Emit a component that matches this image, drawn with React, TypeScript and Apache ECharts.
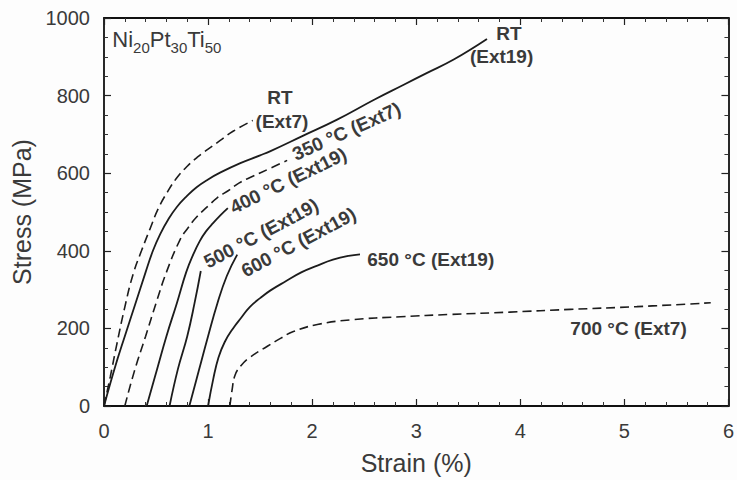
import React, { useEffect, useRef } from "react";
import * as echarts from "echarts";

// Axis ranges / ticks
const strainMin = 0;
const strainMax = 6;
const strainStep = 1;
const stressMin = 0;
const stressMax = 1000;
const stressStep = 200;

// Stress-strain curves: [strain %, stress MPa]
const rtExt7: number[][] = [
  [0, 0], [0.06, 75], [0.12, 155], [0.2, 255], [0.28, 340], [0.36, 400], [0.44, 455],
  [0.52, 508], [0.61, 552], [0.7, 588], [0.8, 618], [0.9, 642], [1.0, 662], [1.12, 685],
  [1.24, 708], [1.43, 736],
];
const rtExt19: number[][] = [
  [0, 0], [0.1, 95], [0.2, 180], [0.3, 262], [0.4, 345], [0.47, 400], [0.54, 443],
  [0.62, 482], [0.7, 513], [0.8, 542], [0.89, 564], [1.0, 584], [1.12, 602], [1.31, 626],
  [1.5, 646], [1.6, 657], [1.9, 695], [2.24, 738], [2.6, 790], [2.88, 828], [3.1, 858],
  [3.36, 893], [3.68, 946],
];
const t350Ext7: number[][] = [
  [0.2, 0], [0.29, 88], [0.4, 180], [0.5, 265], [0.6, 345], [0.73, 428], [0.81, 460],
  [0.89, 487], [1.0, 515], [1.09, 537], [1.2, 556], [1.3, 575], [1.43, 592], [1.6, 613],
  [1.76, 633],
];
const t400Ext19: number[][] = [
  [0.41, 0], [0.51, 95], [0.6, 180], [0.7, 265], [0.79, 345], [0.86, 392], [0.92, 425],
  [0.98, 450], [1.05, 472], [1.12, 492], [1.19, 510],
];
const t500Ext19: number[][] = [
  [0.63, 0], [0.71, 95], [0.8, 180], [0.87, 265], [0.93, 348],
];
const t600Ext19: number[][] = [
  [0.82, 0], [0.91, 90], [1.0, 180], [1.09, 265], [1.18, 335], [1.28, 390],
];
const t650Ext19: number[][] = [
  [1.0, 0], [1.05, 70], [1.1, 125], [1.16, 165], [1.24, 200], [1.32, 228], [1.4, 255],
  [1.5, 278], [1.6, 298], [1.75, 322], [1.9, 345], [2.05, 362], [2.2, 377], [2.35, 387],
  [2.46, 391],
];
const t700Ext7: number[][] = [
  [1.21, 0], [1.23, 40], [1.26, 80], [1.32, 105], [1.4, 125], [1.57, 154], [1.7, 175],
  [1.82, 192], [2.05, 210], [2.37, 222], [2.85, 230], [3.33, 236], [3.9, 242], [4.48, 249],
  [5.12, 256], [5.83, 266],
];

// Curve labels: text, anchor [strain, stress], rotation (deg), alignment
const curveLabels: { text: string; at: number[]; rot: number; align: string }[] = [
  { text: "RT", at: [1.69, 794], rot: 0, align: "center" },
  { text: "(Ext7)", at: [1.71, 733], rot: 0, align: "center" },
  { text: "RT", at: [3.89, 961], rot: 0, align: "center" },
  { text: "(Ext19)", at: [3.82, 900], rot: 0, align: "center" },
  { text: "350 °C (Ext7)", at: [2.33, 708], rot: 24, align: "center" },
  { text: "400 °C (Ext19)", at: [1.77, 581], rot: 26, align: "center" },
  { text: "500 °C (Ext19)", at: [1.51, 445], rot: 28, align: "center" },
  { text: "600 °C (Ext19)", at: [1.87, 422], rot: 28, align: "center" },
  { text: "650 °C (Ext19)", at: [2.53, 378], rot: 0, align: "left" },
  { text: "700 °C (Ext7)", at: [5.04, 200], rot: 0, align: "center" },
];

const FONT = "'Liberation Sans', Arial, Helvetica, sans-serif";
const LINE = "#1c1c1c";
const TEXT = "#3a3a3a";

export default function App() {
  const ref = useRef<HTMLDivElement>(null);
  useEffect(() => {
    const chart = echarts.init(ref.current!, null, { renderer: "svg" });
    const mk = (name: string, data: number[][], dashed: boolean) => ({
      type: "line",
      name,
      data,
      symbol: "none",
      showSymbol: false,
      smooth: 0.45,
      silent: true,
      xAxisIndex: 0,
      yAxisIndex: 0,
      lineStyle: {
        color: LINE,
        width: dashed ? 1.6 : 1.8,
        type: dashed ? [9, 5] : "solid",
      },
    });
    const axisCommon = {
      type: "value",
      splitLine: { show: false },
      axisLine: { show: true, onZero: false, lineStyle: { color: "#111", width: 1.8 } },
      axisTick: { show: true, inside: true, length: 7, lineStyle: { color: "#222", width: 1.2 } },
      minorTick: { show: true, length: 4, lineStyle: { color: "#333", width: 1 } },
      minorSplitLine: { show: false },
    };
    chart.setOption({
      animation: false,
      backgroundColor: "#fdfdfd",
      grid: { left: 104, right: 7, top: 18, bottom: 73, containLabel: false },
      xAxis: [
        {
          ...axisCommon,
          position: "bottom",
          min: strainMin,
          max: strainMax,
          interval: strainStep,
          minorTick: { ...axisCommon.minorTick, splitNumber: 5 },
          axisLabel: { show: true, color: TEXT, fontSize: 20, fontFamily: FONT, margin: 15 },
          name: "Strain (%)",
          nameLocation: "middle",
          nameGap: 44,
          nameTextStyle: { color: TEXT, fontSize: 25, fontFamily: FONT },
        },
        {
          ...axisCommon,
          position: "top",
          min: strainMin,
          max: strainMax,
          interval: strainStep,
          minorTick: { ...axisCommon.minorTick, splitNumber: 5 },
          axisLabel: { show: false },
        },
      ],
      yAxis: [
        {
          ...axisCommon,
          position: "left",
          min: stressMin,
          max: stressMax,
          interval: stressStep,
          minorTick: { ...axisCommon.minorTick, splitNumber: 4 },
          axisLabel: {
            show: true,
            color: TEXT,
            fontSize: 20,
            fontFamily: FONT,
            margin: 14,
            formatter: (v: number) => String(v),
          },
          name: "Stress (MPa)",
          nameLocation: "middle",
          nameGap: 68,
          nameTextStyle: { color: TEXT, fontSize: 25, fontFamily: FONT },
        },
        {
          ...axisCommon,
          position: "right",
          min: stressMin,
          max: stressMax,
          interval: stressStep,
          minorTick: { ...axisCommon.minorTick, splitNumber: 4 },
          axisLabel: { show: false },
        },
      ],
      series: [
        mk("RT (Ext7)", rtExt7, true),
        mk("RT (Ext19)", rtExt19, false),
        mk("350 °C (Ext7)", t350Ext7, true),
        mk("400 °C (Ext19)", t400Ext19, false),
        mk("500 °C (Ext19)", t500Ext19, false),
        mk("600 °C (Ext19)", t600Ext19, false),
        mk("650 °C (Ext19)", t650Ext19, false),
        mk("700 °C (Ext7)", t700Ext7, true),
      ],
    });

    const toPx = (p: number[]) =>
      chart.convertToPixel({ xAxisIndex: 0, yAxisIndex: 0 }, p) as number[];
    const elements: any[] = curveLabels.map((l) => {
      const [px, py] = toPx(l.at);
      return {
        type: "text",
        x: px,
        y: py,
        rotation: (l.rot * Math.PI) / 180,
        silent: true,
        style: {
          text: l.text,
          fill: TEXT,
          font: `bold 19px ${FONT}`,
          align: l.align,
          verticalAlign: "middle",
        },
      };
    });
    const [tx, ty] = toPx([0.08, 949]);
    elements.push({
      type: "text",
      x: tx,
      y: ty,
      silent: true,
      style: {
        text: "{m|Ni}{s|20}{m|Pt}{s|30}{m|Ti}{s|50}",
        verticalAlign: "middle",
        align: "left",
        rich: {
          m: { fontSize: 22, fontFamily: FONT, fill: TEXT, color: TEXT, verticalAlign: "bottom", lineHeight: 26 },
          s: { fontSize: 15, fontFamily: FONT, fill: TEXT, color: TEXT, verticalAlign: "bottom", lineHeight: 20, padding: [0, 0, -4, 0] },
        },
      },
    });
    chart.setOption({ graphic: elements });

    return () => chart.dispose();
  }, []);
  return (
    <div
      ref={ref}
      style={{ position: "absolute", left: 0, top: 0, width: 737, height: 480 }}
    />
  );
}
